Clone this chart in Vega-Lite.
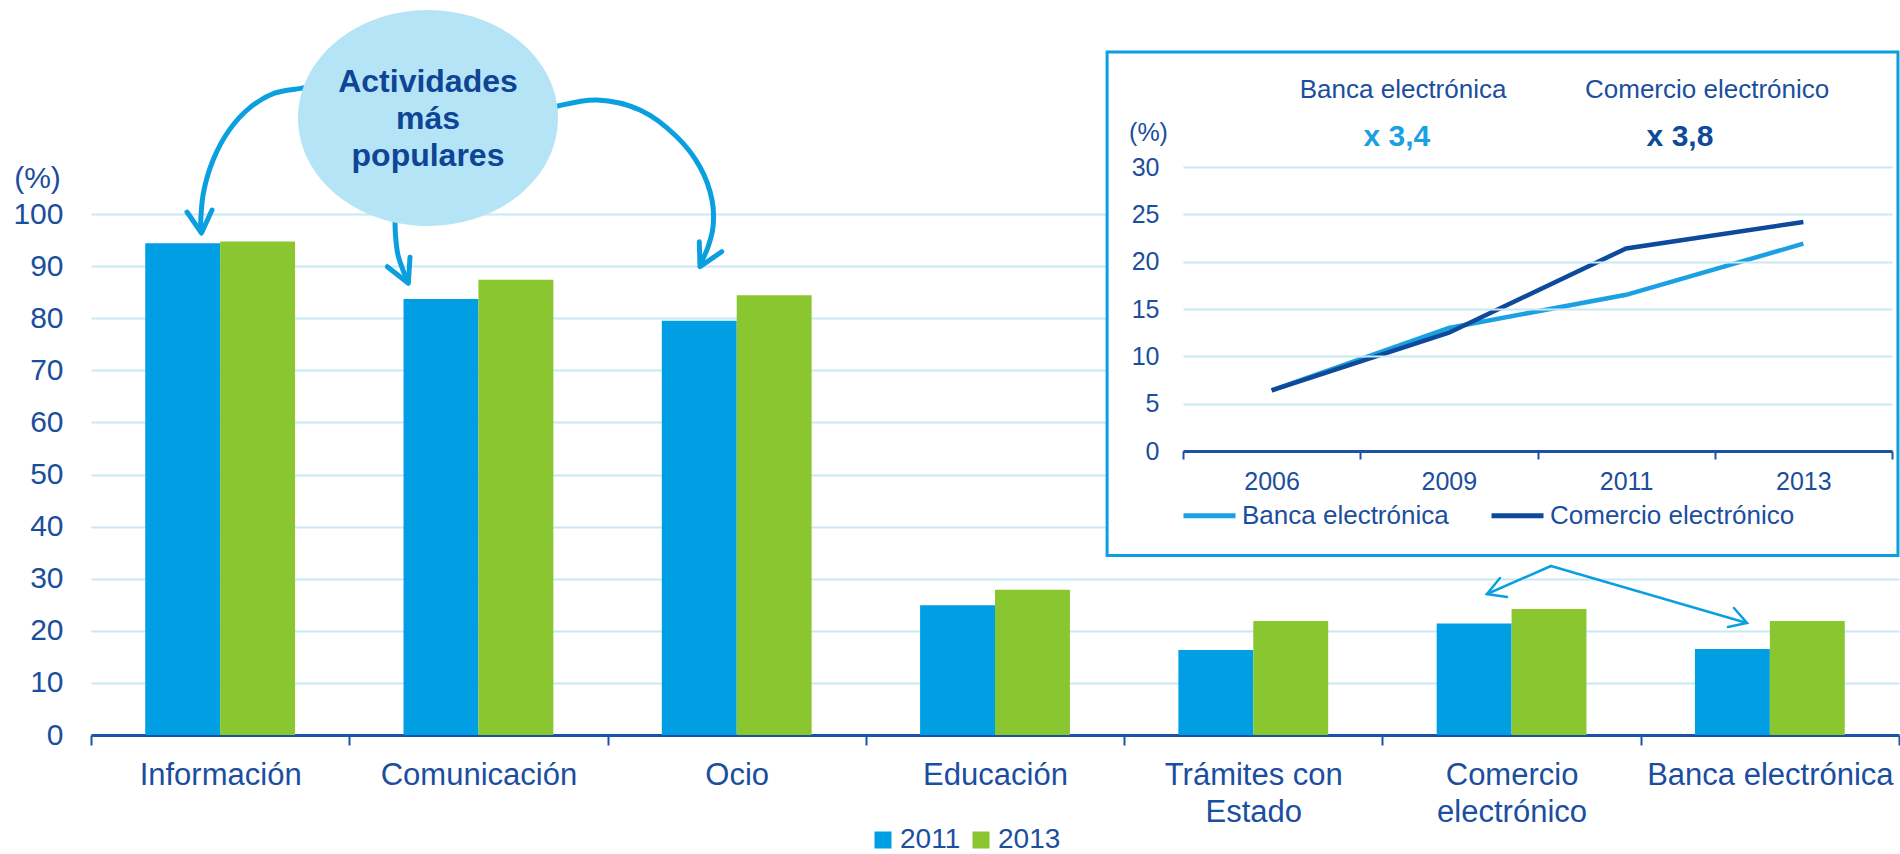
{
  "$schema": "https://vega.github.io/schema/vega-lite/v6.json",
  "width": 1808,
  "height": 521,
  "autosize": {"type": "none"},
  "padding": {"left": 91, "top": 214, "right": 1, "bottom": 119},
  "background": "#ffffff",
  "config": {
    "view": {"stroke": null},
    "font": "Liberation Sans",
    "axis": {"labelFont": "Liberation Sans", "titleFont": "Liberation Sans", "labelColor": "#1B4E9E", "titleColor": "#1B4E9E", "titleFontWeight": "normal"},
    "legend": {"labelFont": "Liberation Sans", "labelColor": "#1B4E9E"},
    "text": {"font": "Liberation Sans"}
  },
  "datasets": {
    "barras": [
      {"Actividad": "Información", "Año": "2011", "Porcentaje": 94.4},
      {"Actividad": "Información", "Año": "2013", "Porcentaje": 94.7},
      {"Actividad": "Comunicación", "Año": "2011", "Porcentaje": 83.7},
      {"Actividad": "Comunicación", "Año": "2013", "Porcentaje": 87.4},
      {"Actividad": "Ocio", "Año": "2011", "Porcentaje": 79.5},
      {"Actividad": "Ocio", "Año": "2013", "Porcentaje": 84.4},
      {"Actividad": "Educación", "Año": "2011", "Porcentaje": 24.9},
      {"Actividad": "Educación", "Año": "2013", "Porcentaje": 27.9},
      {"Actividad": "Trámites con Estado", "Año": "2011", "Porcentaje": 16.3},
      {"Actividad": "Trámites con Estado", "Año": "2013", "Porcentaje": 21.9},
      {"Actividad": "Comercio electrónico", "Año": "2011", "Porcentaje": 21.4},
      {"Actividad": "Comercio electrónico", "Año": "2013", "Porcentaje": 24.2},
      {"Actividad": "Banca electrónica", "Año": "2011", "Porcentaje": 16.5},
      {"Actividad": "Banca electrónica", "Año": "2013", "Porcentaje": 21.9}
    ],
    "evolucion": [
      {"Serie": "Banca electrónica", "Año": "2006", "Porcentaje": 6.4},
      {"Serie": "Banca electrónica", "Año": "2009", "Porcentaje": 13.0},
      {"Serie": "Banca electrónica", "Año": "2011", "Porcentaje": 16.5},
      {"Serie": "Banca electrónica", "Año": "2013", "Porcentaje": 21.9},
      {"Serie": "Comercio electrónico", "Año": "2006", "Porcentaje": 6.4},
      {"Serie": "Comercio electrónico", "Año": "2009", "Porcentaje": 12.5},
      {"Serie": "Comercio electrónico", "Año": "2011", "Porcentaje": 21.4},
      {"Serie": "Comercio electrónico", "Año": "2013", "Porcentaje": 24.2}
    ],
    "recuadro": [{"ax": 3.934, "ax2": 6.996, "ay": 131.1, "ay2": 34.45}],
    "burbuja": [{"ax": 1.3047, "ay": 118.43}],
    "rotulo": [{"ax": 1.3047, "ay": 123.42, "texto": "Actividades|más|populares"}],
    "curvas": [
      {"id": "izq", "seq": 1, "ax": 0.8672, "ay": 124.57},
      {"id": "izq", "seq": 2, "ax": 0.8111, "ay": 124.11},
      {"id": "izq", "seq": 3, "ax": 0.7104, "ay": 123.19},
      {"id": "izq", "seq": 4, "ax": 0.6164, "ay": 120.46},
      {"id": "izq", "seq": 5, "ax": 0.5358, "ay": 116.14},
      {"id": "izq", "seq": 6, "ax": 0.4739, "ay": 110.50},
      {"id": "izq", "seq": 7, "ax": 0.4348, "ay": 103.93},
      {"id": "izq", "seq": 8, "ax": 0.4239, "ay": 97.31},
      {"id": "med", "seq": 1, "ax": 1.1770, "ay": 99.81},
      {"id": "med", "seq": 2, "ax": 1.1789, "ay": 95.97},
      {"id": "med", "seq": 3, "ax": 1.1886, "ay": 92.13},
      {"id": "med", "seq": 4, "ax": 1.2079, "ay": 89.25},
      {"id": "med", "seq": 5, "ax": 1.2273, "ay": 86.95},
      {"id": "der", "seq": 1, "ax": 1.7577, "ay": 119.96},
      {"id": "der", "seq": 2, "ax": 1.8080, "ay": 120.73},
      {"id": "der", "seq": 3, "ax": 1.9590, "ay": 121.88},
      {"id": "der", "seq": 4, "ax": 2.1255, "ay": 119.96},
      {"id": "der", "seq": 5, "ax": 2.2688, "ay": 114.78},
      {"id": "der", "seq": 6, "ax": 2.3578, "ay": 109.02},
      {"id": "der", "seq": 7, "ax": 2.4044, "ay": 102.69},
      {"id": "der", "seq": 8, "ax": 2.4082, "ay": 97.50},
      {"id": "der", "seq": 9, "ax": 2.3889, "ay": 93.67},
      {"id": "der", "seq": 10, "ax": 2.3597, "ay": 90.40}
    ],
    "puntas": [
      {"id": "izq", "seq": 1, "ax": 0.3717, "ay": 100.38},
      {"id": "izq", "seq": 2, "ax": 0.4278, "ay": 96.35},
      {"id": "izq", "seq": 3, "ax": 0.4685, "ay": 100.77},
      {"id": "med", "seq": 1, "ax": 1.1472, "ay": 89.88},
      {"id": "med", "seq": 2, "ax": 1.2285, "ay": 86.70},
      {"id": "med", "seq": 3, "ax": 1.2350, "ay": 91.69},
      {"id": "der", "seq": 1, "ax": 2.3551, "ay": 94.68},
      {"id": "der", "seq": 2, "ax": 2.3578, "ay": 89.88},
      {"id": "der", "seq": 3, "ax": 2.4418, "ay": 92.76}
    ],
    "flechas": [
      {"id": "a", "seq": 1, "ax": 5.6525, "ay": 32.44},
      {"id": "a", "seq": 2, "ax": 5.4047, "ay": 27.06},
      {"id": "b", "seq": 1, "ax": 5.6525, "ay": 32.44},
      {"id": "b", "seq": 2, "ax": 6.4114, "ay": 21.50},
      {"id": "pa", "seq": 1, "ax": 5.4551, "ay": 30.13},
      {"id": "pa", "seq": 2, "ax": 5.4047, "ay": 27.06},
      {"id": "pa", "seq": 3, "ax": 5.4822, "ay": 26.49},
      {"id": "pb", "seq": 1, "ax": 6.3610, "ay": 24.38},
      {"id": "pb", "seq": 2, "ax": 6.4114, "ay": 21.50},
      {"id": "pb", "seq": 3, "ax": 6.3378, "ay": 20.73}
    ],
    "titulos": [
      {"ax": 5.080, "ay": 123.8, "texto": "Banca electrónica"},
      {"ax": 6.257, "ay": 123.8, "texto": "Comercio electrónico"}
    ],
    "factores": [
      {"ax": 5.056, "ay": 114.8, "texto": "x 3,4", "Serie": "Banca electrónica"},
      {"ax": 6.152, "ay": 114.8, "texto": "x 3,8", "Serie": "Comercio electrónico"}
    ]
  },
  "layer": [
    {
      "data": {"name": "barras"},
      "mark": {"type": "bar"},
      "encoding": {
        "x": {
          "field": "Actividad", "type": "nominal", "sort": null,
          "scale": {"paddingInner": 0, "paddingOuter": 0},
          "axis": {
            "title": null, "labelAngle": 0, "labelFontSize": 31, "labelPadding": 15, "labelLineHeight": 37,
            "labelLimit": 400, "labelOverlap": false,
            "labelExpr": "datum.value == 'Trámites con Estado' ? ['Trámites con', 'Estado'] : datum.value == 'Comercio electrónico' ? ['Comercio', 'electrónico'] : datum.value",
            "tickBand": "extent", "tickSize": 10, "tickWidth": 2, "tickColor": "#1A52A8",
            "domainColor": "#1A52A8", "domainWidth": 3, "grid": false
          }
        },
        "xOffset": {"field": "Año", "type": "nominal", "scale": {"paddingInner": 0, "paddingOuter": 0.724}},
        "y": {
          "field": "Porcentaje", "type": "quantitative",
          "scale": {"domain": [0, 100], "nice": false},
          "axis": {
            "title": "(%)", "titleAngle": 0, "titleX": -54, "titleY": -36, "titleAlign": "center", "titleBaseline": "middle",
            "titleFontSize": 30, "labelFontSize": 30, "labelPadding": 28, "ticks": false, "tickSize": 0, "domain": false,
            "values": [0, 10, 20, 30, 40, 50, 60, 70, 80, 90, 100],
            "grid": true, "gridColor": "#C8E8F6", "gridWidth": 2
          }
        },
        "color": {
          "field": "Año", "type": "nominal",
          "scale": {"domain": ["2011", "2013"], "range": ["#009FE3", "#8AC630"]},
          "legend": {
            "orient": "none", "legendX": 778, "legendY": 612, "direction": "horizontal", "title": null,
            "symbolType": "square", "symbolSize": 289, "symbolStrokeWidth": 0, "symbolOpacity": 1,
            "labelFontSize": 28, "labelOffset": 3, "columnPadding": 6
          }
        }
      }
    },
    {
      "encoding": {
        "x": {"field": "ax", "type": "quantitative", "scale": {"domain": [0, 7], "nice": false, "zero": false}, "axis": null},
        "y": {"field": "ay", "type": "quantitative", "scale": {"domain": [0, 100], "nice": false, "zero": false}, "axis": null}
      },
      "layer": [
        {
          "data": {"name": "recuadro"},
          "mark": {"type": "rect", "fill": "#ffffff", "stroke": "#0A9FE0", "strokeWidth": 3},
          "encoding": {"x2": {"field": "ax2"}, "y2": {"field": "ay2"}}
        },
        {
          "data": {"name": "curvas"},
          "mark": {"type": "line", "interpolate": "catmull-rom", "stroke": "#0AA0E0", "strokeWidth": 5, "strokeCap": "round"},
          "encoding": {"detail": {"field": "id"}, "order": {"field": "seq"}}
        },
        {
          "data": {"name": "burbuja"},
          "mark": {"type": "point", "shape": "M-1,0A1,0.831,0,1,1,1,0A1,0.831,0,1,1,-1,0Z", "size": 67600, "filled": true, "fill": "#B5E4F7", "opacity": 1, "strokeWidth": 0}
        },
        {
          "data": {"name": "rotulo"},
          "mark": {"type": "text", "fontWeight": "bold", "fontSize": 32, "color": "#0F4595", "lineBreak": "|", "lineHeight": 37, "align": "center", "baseline": "alphabetic"},
          "encoding": {"text": {"field": "texto"}}
        },
        {
          "data": {"name": "puntas"},
          "mark": {"type": "line", "stroke": "#0AA0E0", "strokeWidth": 5, "strokeCap": "round", "strokeJoin": "round"},
          "encoding": {"detail": {"field": "id"}, "order": {"field": "seq"}}
        },
        {
          "data": {"name": "flechas"},
          "mark": {"type": "line", "stroke": "#0AA0E0", "strokeWidth": 2.5, "strokeCap": "round"},
          "encoding": {"detail": {"field": "id"}, "order": {"field": "seq"}}
        },
        {
          "data": {"name": "titulos"},
          "mark": {"type": "text", "fontSize": 26, "color": "#1B4E9E", "align": "center", "baseline": "middle"},
          "encoding": {"text": {"field": "texto"}}
        },
        {
          "data": {"name": "factores"},
          "mark": {"type": "text", "fontSize": 30, "fontWeight": "bold", "align": "center", "baseline": "middle"},
          "encoding": {
            "text": {"field": "texto"},
            "color": {"field": "Serie", "type": "nominal", "scale": {"domain": ["Banca electrónica", "Comercio electrónico"], "range": ["#1BA1E2", "#0D4A9C"]}, "legend": null}
          }
        }
      ]
    },
    {
      "data": {"name": "evolucion"},
      "mark": {"type": "line", "strokeWidth": 4.5},
      "encoding": {
        "x": {
          "field": "Año", "type": "ordinal",
          "scale": {"type": "band", "range": [1092, 1801], "paddingInner": 0, "paddingOuter": 0},
          "axis": {
            "orient": "bottom", "offset": -284, "title": null, "labelAngle": 0, "labelFontSize": 25, "labelPadding": 10,
            "tickBand": "extent", "tickSize": 8, "tickWidth": 2, "tickColor": "#1A52A8",
            "domainColor": "#1A52A8", "domainWidth": 3, "grid": false, "zindex": 1
          }
        },
        "y": {
          "field": "Porcentaje", "type": "quantitative",
          "scale": {"domain": [0, 30], "range": [237, -47], "nice": false},
          "axis": {
            "orient": "left", "offset": -1092, "title": "(%)", "titleAngle": 0, "titleX": -35, "titleY": -82,
            "titleAlign": "center", "titleBaseline": "middle", "titleFontSize": 25,
            "labelFontSize": 25, "labelPadding": 24, "ticks": false, "tickSize": 0, "domain": false,
            "values": [0, 5, 10, 15, 20, 25, 30], "grid": true, "gridColor": "#C8E8F6", "gridWidth": 2, "zindex": 1
          }
        },
        "color": {
          "field": "Serie", "type": "nominal",
          "scale": {"domain": ["Banca electrónica", "Comercio electrónico"], "range": ["#1BA1E2", "#0D4A9C"]},
          "legend": {
            "orient": "none", "legendX": 1090, "legendY": 273, "direction": "horizontal", "title": null,
            "symbolType": "stroke", "symbolSize": 2704, "symbolStrokeWidth": 5,
            "labelFontSize": 26, "labelOffset": 4, "columnPadding": 32, "labelLimit": 400
          }
        }
      }
    }
  ],
  "resolve": {"scale": {"x": "independent", "y": "independent", "color": "independent"}}
}
